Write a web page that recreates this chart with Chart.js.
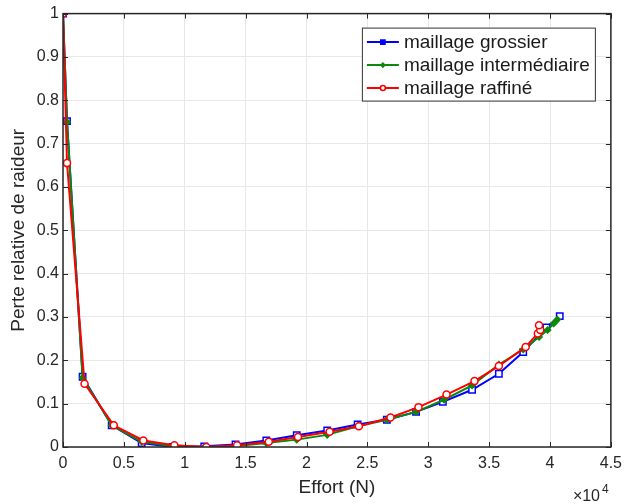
<!DOCTYPE html>
<html><head><meta charset="utf-8">
<script src="https://cdn.jsdelivr.net/npm/chart.js@4/dist/chart.umd.min.js"></script>
<style>html,body{margin:0;padding:0;background:#fff}#wrap{width:629px;height:504px;position:relative}</style>
</head><body><div id="wrap"><canvas id="c" width="629" height="504"></canvas></div>
<script>
// ---- data (Effort in N, loss of stiffness relative) ----
const seriesLabels = ['maillage grossier', 'maillage intermédiaire', 'maillage raffiné'];
const grossierX = [0, 330, 1610, 4000, 6460, 9000, 11600, 14170, 16700, 19200, 21700, 24200, 26600, 29000, 31200, 33600, 35800, 37800, 39700, 40800];
const grossierY = [1.0, 0.752, 0.162, 0.05, 0.009, 0.0, 0.0015, 0.006, 0.015, 0.027, 0.038, 0.052, 0.063, 0.081, 0.104, 0.132, 0.169, 0.219, 0.276, 0.302];
const interX = [0, 330, 1610, 4000, 6460, 9000, 11600, 14170, 16700, 19200, 21700, 24200, 26600, 29000, 31300, 33600, 35800, 37800, 39100, 39800, 40300, 40600];
const interY = [1.0, 0.75, 0.16, 0.05, 0.012, 0.002, 0.0, 0.002, 0.009, 0.017, 0.028, 0.048, 0.063, 0.081, 0.109, 0.142, 0.19, 0.225, 0.254, 0.270, 0.285, 0.294];
const raffineX = [0, 330, 1770, 4170, 6600, 9150, 11770, 14300, 16900, 19300, 21900, 24300, 26900, 29200, 31500, 33800, 35800, 38000, 39000, 39200, 39100];
const raffineY = [1.0, 0.655, 0.146, 0.05, 0.015, 0.004, 0.0, 0.004, 0.012, 0.023, 0.035, 0.048, 0.068, 0.092, 0.121, 0.152, 0.187, 0.231, 0.262, 0.270, 0.281];
const xTickValues = [0, 5000, 10000, 15000, 20000, 25000, 30000, 35000, 40000, 45000];
const xTickLabels = ['0', '0.5', '1', '1.5', '2', '2.5', '3', '3.5', '4', '4.5'];
const yTickLabels = ['0', '0.1', '0.2', '0.3', '0.4', '0.5', '0.6', '0.7', '0.8', '0.9', '1'];
const xTitle = 'Effort (N)';
const yTitle = 'Perte relative de raideur';

const FONT = "'Liberation Sans', Arial, Helvetica, sans-serif";
const zip = (xs, ys) => xs.map((x, i) => ({x, y: ys[i]}));

const styles = [
  {color: '#0000ff', pointStyle: 'rect', radius: 4.5, fill: '#ffffff', order: 3},
  {color: '#0a8a0a', pointStyle: 'rectRot', radius: 3, fill: '#0a8a0a', order: 2},
  {color: '#ff0000', pointStyle: 'circle', radius: 3.5, fill: '#ffffff', order: 1}
];
const xsAll = [grossierX, interX, raffineX];
const ysAll = [grossierY, interY, raffineY];

const datasets = seriesLabels.map((lab, i) => ({
  label: lab,
  data: zip(xsAll[i], ysAll[i]),
  showLine: true,
  borderColor: styles[i].color,
  backgroundColor: styles[i].fill,
  pointBorderColor: styles[i].color,
  pointBackgroundColor: styles[i].fill,
  pointStyle: styles[i].pointStyle,
  pointRadius: styles[i].radius,
  pointBorderWidth: 1.5,
  borderWidth: 2,
  tension: 0,
  order: styles[i].order
}));

const frame = {
  id: 'frame',
  afterDatasetsDraw(chart) {
    const {ctx, chartArea: a, scales: {x, y}} = chart;
    ctx.save();
    ctx.strokeStyle = '#262626';
    ctx.lineWidth = 1;
    ctx.beginPath();
    x.ticks.forEach(t => {
      const px = Math.round(x.getPixelForValue(t.value)) + 0.5;
      ctx.moveTo(px, a.bottom); ctx.lineTo(px, a.bottom - 5);
      ctx.moveTo(px, a.top); ctx.lineTo(px, a.top + 5);
    });
    y.ticks.forEach(t => {
      const py = Math.round(y.getPixelForValue(t.value)) + 0.5;
      ctx.moveTo(a.left, py); ctx.lineTo(a.left + 5, py);
      ctx.moveTo(a.right, py); ctx.lineTo(a.right - 5, py);
    });
    ctx.stroke();
    ctx.lineWidth = 1.5;
    ctx.strokeRect(a.left, a.top, a.width, a.height);
    ctx.restore();
  },
  afterDraw(chart) {
    const {ctx, chartArea: a} = chart;
    ctx.save();
    // legend box
    const bw = 233, bh = 73;
    const bx = a.right - 16 - bw, by = a.top + 14;
    ctx.fillStyle = '#ffffff';
    ctx.fillRect(bx, by, bw, bh);
    ctx.strokeStyle = '#333333';
    ctx.lineWidth = 1;
    ctx.strokeRect(bx + 0.5, by + 0.5, bw, bh);
    ctx.font = '19px ' + FONT;
    ctx.textBaseline = 'middle';
    ctx.textAlign = 'left';
    chart.data.datasets.forEach((ds, i) => {
      const ly = by + 14.5 + i * 23;
      ctx.strokeStyle = ds.borderColor;
      ctx.lineWidth = 2;
      ctx.beginPath(); ctx.moveTo(bx + 5, ly); ctx.lineTo(bx + 37, ly); ctx.stroke();
      const r = i === 0 ? 3 : (i === 1 ? 2 : 2.5);
      ctx.lineWidth = 1.5;
      ctx.fillStyle = i === 0 ? ds.borderColor : ds.pointBackgroundColor;
      Chart.helpers.drawPoint(ctx, {pointStyle: ds.pointStyle, rotation: 0, borderWidth: 1.5, radius: r}, bx + 21, ly);
      ctx.fillStyle = '#1a1a1a';
      ctx.fillText(ds.label, bx + 42, ly + 1);
    });
    // exponent label
    ctx.fillStyle = '#262626';
    ctx.font = '16px ' + FONT;
    ctx.textAlign = 'left';
    ctx.textBaseline = 'alphabetic';
    ctx.fillText('\u00d710', a.right - 38, 501);
    ctx.font = '12px ' + FONT;
    ctx.fillText('4', a.right - 9, 493);
    ctx.restore();
  }
};

new Chart(document.getElementById('c'), {
  type: 'scatter',
  data: {datasets},
  options: {
    responsive: false,
    animation: false,
    devicePixelRatio: 1,
    layout: {padding: {top: 13, right: 14, left: 0, bottom: 0}},
    plugins: {legend: {display: false}, tooltip: {enabled: false}},
    scales: {
      x: {
        type: 'linear', min: 0, max: 45000,
        afterFit(s) { s.height = 57; },
        afterBuildTicks(s) { s.ticks = xTickValues.map(v => ({value: v})); },
        ticks: {
          padding: 7, color: '#262626', font: {family: FONT, size: 16},
          maxRotation: 0, autoSkip: false,
          callback: (v) => { const i = xTickValues.indexOf(v); return i >= 0 ? xTickLabels[i] : ''; }
        },
        grid: {color: '#e8e8e8', lineWidth: 1, drawTicks: false},
        border: {display: false},
        title: {display: true, text: xTitle, color: '#262626', font: {family: FONT, size: 19}, padding: {top: 0, bottom: 5}}
      },
      y: {
        type: 'linear', min: 0, max: 1,
        afterFit(s) { s.width = 63; },
        ticks: {
          stepSize: 0.1, padding: 4, color: '#262626', font: {family: FONT, size: 16},
          autoSkip: false,
          callback: (v) => { const i = Math.round(v * 10); return yTickLabels[i]; }
        },
        grid: {color: '#e8e8e8', lineWidth: 1, drawTicks: false},
        border: {display: false},
        title: {display: true, text: yTitle, color: '#262626', font: {family: FONT, size: 19}, padding: {top: 7, bottom: 0}}
      }
    }
  },
  plugins: [frame]
});
</script></body></html>
